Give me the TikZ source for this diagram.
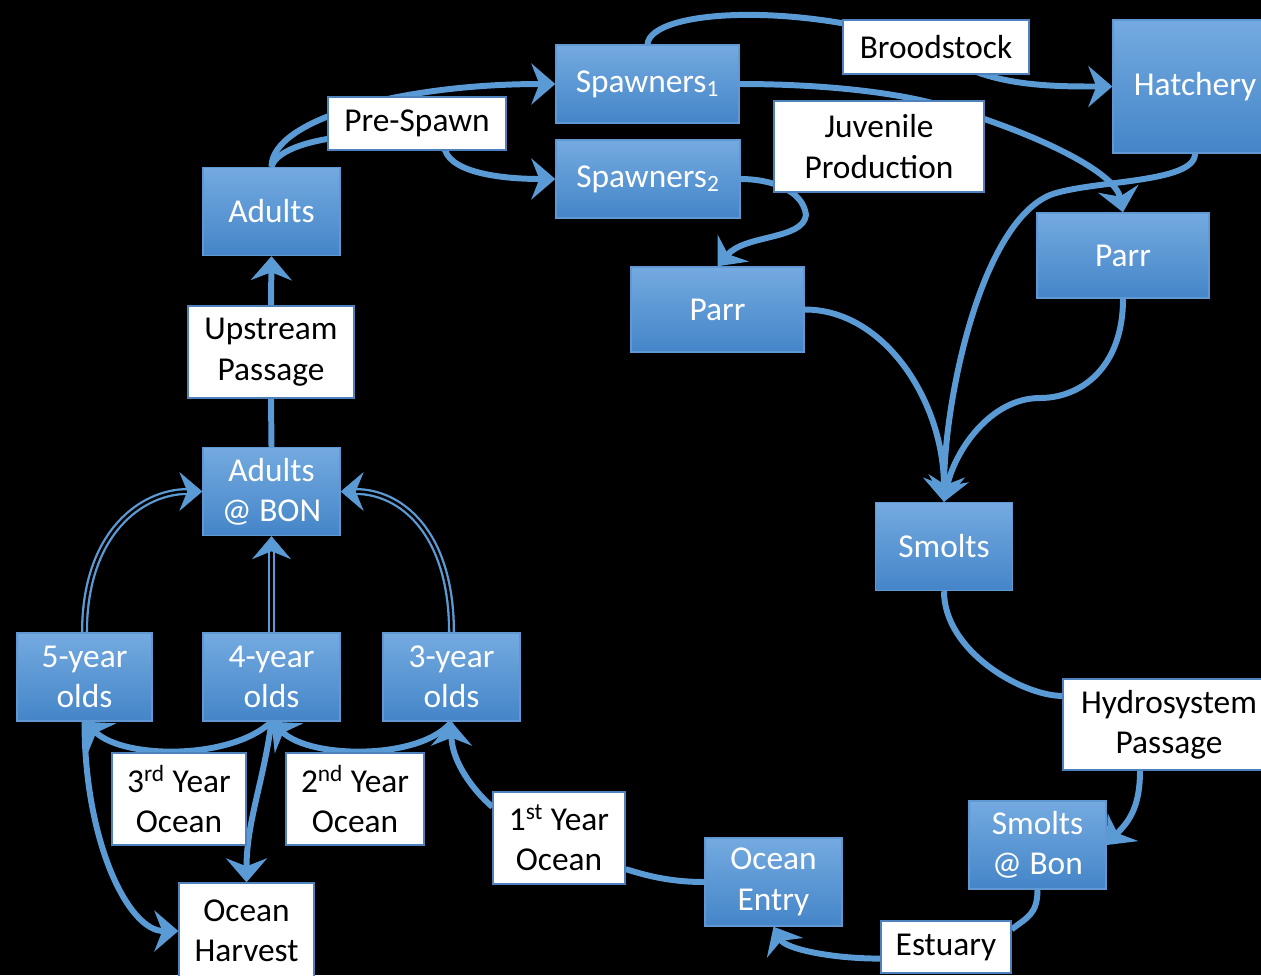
\documentclass[tikz,border=0pt]{standalone}
\usepackage{fontspec}
\setmainfont{Carlito}
\usetikzlibrary{arrows.meta}

\definecolor{flowblue}{RGB}{91,155,213}
\definecolor{boxtop}{RGB}{116,170,224}
\definecolor{boxbottom}{RGB}{68,133,200}
\definecolor{boxline}{RGB}{96,152,212}
\definecolor{tagline}{RGB}{79,129,189}

\pgfdeclarelayer{back}
\pgfdeclarelayer{links}
\pgfsetlayers{back,links,main}

\begin{document}
\begin{tikzpicture}[
    x=0.02cm, y=-0.02cm,
    font=\fontsize{19}{23}\selectfont,
    stage/.style={rectangle, draw=boxline, line width=0.8pt, top color=boxtop, bottom color=boxbottom,
        text=white, align=center, inner sep=0pt, minimum width=2.74cm, minimum height=1.76cm},
    tag/.style={rectangle, draw=tagline, line width=0.8pt, fill=white, text=black, align=center,
        inner sep=0pt, minimum height=1.84cm},
    flowline/.style={draw=flowblue, line width=3.4pt},
    returnline/.style={draw=black, line width=0.3pt,
        -{Stealth[length=0.46cm, width=0.78cm, inset=0.16cm, color=flowblue]},
        preaction={draw=flowblue, line width=1.3pt, double=black, double distance=1.4pt, shorten >=0.3cm, -}},
    >={Stealth[length=0.48cm, width=0.82cm, inset=0.16cm]}
]
    \useasboundingbox (0,0) rectangle (1261,975);
    \begin{pgfonlayer}{back}
        \fill[black] (0,0) rectangle (1261,975);
    \end{pgfonlayer}

    % Freshwater stages
    \node[stage] (adults) at (271.5,211.5) {Adults};
    \node[stage, minimum width=3.66cm, minimum height=1.56cm] (spawn1) at (647.5,84) {Spawners\textsubscript{1}};
    \node[stage, minimum width=3.68cm, minimum height=1.56cm] (spawn2) at (648,179) {Spawners\textsubscript{2}};
    \node[stage, minimum width=3.28cm, minimum height=2.66cm] (hatchery) at (1195,86.5) {Hatchery};
    \node[stage, minimum width=3.44cm, minimum height=1.7cm] (parrR) at (1123,255.5) {Parr};
    \node[stage, minimum width=3.46cm, minimum height=1.7cm] (parrL) at (717.5,309.5) {Parr};
    \node[stage] (smolts) at (944,546.5) {Smolts};
    \node[stage] (smoltsbon) at (1037.5,845) {Smolts\\@ Bon};
    \node[stage] (oceanentry) at (773.5,882) {Ocean\\Entry};

    % Ocean stages
    \node[stage] (threeyr) at (451.5,677) {3-year\\olds};
    \node[stage] (fouryr) at (271.5,677) {4-year\\olds};
    \node[stage, minimum width=2.7cm] (fiveyr) at (84.5,677) {5-year\\olds};
    \node[stage] (adultsbon) at (271.5,491.5) {Adults\\@ BON};

    % Labels
    \node[tag, minimum width=3.56cm, minimum height=1.06cm] (prespawn) at (417,123.5) {Pre-Spawn};
    \node[tag, minimum width=3.72cm, minimum height=1.08cm] (broodstock) at (936,47) {Broodstock};
    \node[tag, minimum width=4.2cm, minimum height=1.82cm] (juvenile) at (879,146.5) {Juvenile\\Production};
    \node[tag, minimum width=4.24cm, minimum height=1.82cm] (hydro) at (1169,724.5) {Hydrosystem\\Passage};
    \node[tag, minimum width=2.6cm, minimum height=1.04cm] (estuary) at (946,947) {Estuary};
    \node[tag, minimum width=2.64cm] (firstyear) at (559,838) {1\textsuperscript{st} Year\\Ocean};
    \node[tag, minimum width=2.76cm] (secondyear) at (355,799) {2\textsuperscript{nd} Year\\Ocean};
    \node[tag, minimum width=2.68cm] (thirdyear) at (179,799) {3\textsuperscript{rd} Year\\Ocean};
    \node[tag, minimum width=2.7cm, minimum height=1.92cm] (harvest) at (246.5,931) {Ocean\\Harvest};
    \node[tag, minimum width=3.32cm] (upstream) at (271,352) {Upstream\\Passage};

    \begin{pgfonlayer}{links}
    % Spawning and hatchery
    \draw[flowline,->] (adults.north) .. controls +(0,-47) and +(-156,0) .. (spawn1.west);
    \draw[flowline,->] (adults.north) .. controls +(10,-35) and +(-25,-25) .. (445,150)
        .. controls +(8,25) and +(-45,0) .. (spawn2.west);
    \draw[flowline,->] (spawn1.north) .. controls +(3,-35) and +(-136,-47) .. (broodstock.center)
        .. controls +(40,40) and +(-60,0) .. (hatchery.west);
    \draw[flowline,->] (spawn1.east) .. controls +(81,0) and +(-50,-16) .. (950,108)
        .. controls +(90,27) and +(-8,-40) .. (parrR.north);
    \draw[flowline,->] (spawn2.east) .. controls +(30,0) and +(-3,-25) .. (806,215)
        .. controls +(-3,25) and +(27.5,-32) .. (parrL.north);

    % Juveniles
    \draw[flowline,->] (hatchery.south) .. controls +(0,30) and +(40,-15) .. (1050,195)
        .. controls +(-70,30) and +(0,-100) .. (smolts.north);
    \draw[flowline,->] (parrL.east) .. controls +(80,0) and +(0,-100) .. (smolts.north);
    \draw[flowline,->] (parrR.south) .. controls +(0,70) and +(40,0) .. (1040,398)
        .. controls +(-50,0) and +(10,-50) .. (smolts.north);
    \draw[flowline] (smolts.south) .. controls +(0,60) and +(-40,0) .. (hydro.165);
    \draw[flowline,->] ([xshift=-0.58cm]hydro.south) .. controls +(0,40) and +(20,-22) .. (smoltsbon.east);
    \draw[flowline] (smoltsbon.south) .. controls +(0,25) and +(15,-12) .. (estuary.15);
    \draw[flowline,->] (estuary.190) .. controls +(-50,0) and +(12,22) .. (oceanentry.south);
    \draw[flowline] (oceanentry.west) .. controls +(-30,0) and +(25,8) .. (firstyear.-25);

    % Ocean years
    \draw[flowline,->] (firstyear.155) .. controls +(-25,-22) and +(0,35) .. (threeyr.south);
    \draw[flowline,->] (threeyr.south) .. controls +(-30,38) and +(40,38) .. (fouryr.south);
    \draw[flowline,->] (fouryr.south) .. controls +(-40,38) and +(40,38) .. (fiveyr.south);
    \draw[flowline,->] (fouryr.south) .. controls +(-8,60) and +(0,-60) .. (harvest.north);
    \draw[flowline,->] (fiveyr.south) .. controls +(0,120) and +(-50,0) .. (harvest.west);

    % Return to the river
    \draw[returnline] (fiveyr.north) .. controls +(0,-100) and +(-60,0) .. (adultsbon.west);
    \draw[returnline] (threeyr.north) .. controls +(0,-100) and +(60,0) .. (adultsbon.east);
    \draw[returnline] (fouryr.north) -- (adultsbon.south);
    \draw[flowline] (adultsbon.north) -- (upstream.south);
    \draw[flowline,->] (upstream.north) -- (adults.south);
    \end{pgfonlayer}
\end{tikzpicture}
\end{document}
